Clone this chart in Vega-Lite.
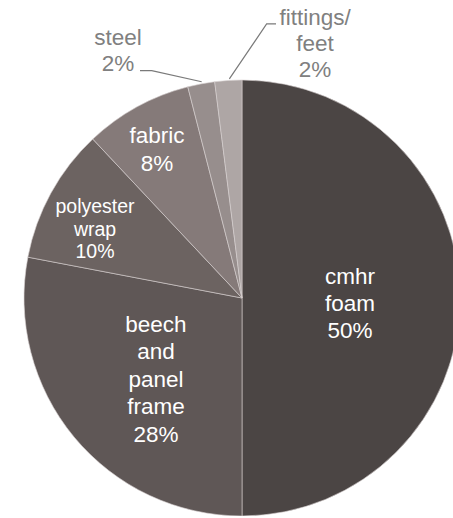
{
  "$schema": "https://vega.github.io/schema/vega-lite/v6.json",
  "width": 436,
  "height": 436,
  "autosize": {"type": "none"},
  "padding": {"left": 24, "top": 80, "right": 0, "bottom": 0},
  "background": "white",
  "config": {"view": {"stroke": null}, "font": "Liberation Sans"},
  "datasets": {
    "slices": [
      {"category": "cmhr foam", "label": "cmhr\nfoam\n50%", "value": 50, "ord": 1},
      {"category": "beech and panel frame", "label": "beech\nand\npanel\nframe\n28%", "value": 28, "ord": 2},
      {"category": "polyester wrap", "label": "polyester\nwrap\n10%", "value": 10, "ord": 3},
      {"category": "fabric", "label": "fabric\n8%", "value": 8, "ord": 4},
      {"category": "steel", "label": "steel\n2%", "value": 2, "ord": 5},
      {"category": "fittings/feet", "label": "fittings/\nfeet\n2%", "value": 2, "ord": 6}
    ],
    "callouts": [
      {"category": "steel", "label": "steel\n2%", "x": -0.569, "y": 1.193},
      {"category": "fittings/feet", "label": "fittings/\nfeet\n2%", "x": 0.335, "y": 1.284}
    ],
    "leaders": [
      {"category": "steel", "p": 1, "x": -0.468, "y": 1.043},
      {"category": "steel", "p": 2, "x": -0.414, "y": 1.043},
      {"category": "steel", "p": 3, "x": -0.185, "y": 0.992},
      {"category": "fittings/feet", "p": 1, "x": 0.156, "y": 1.257},
      {"category": "fittings/feet", "p": 2, "x": 0.113, "y": 1.257},
      {"category": "fittings/feet", "p": 3, "x": -0.058, "y": 1.005}
    ]
  },
  "layer": [
    {
      "data": {"name": "slices"},
      "mark": {"type": "arc", "stroke": "#d8d2d1", "strokeWidth": 0.6},
      "encoding": {
        "theta": {"field": "value", "type": "quantitative", "stack": true},
        "order": {"field": "ord", "type": "quantitative"},
        "color": {
          "field": "category",
          "type": "nominal",
          "legend": null,
          "scale": {
            "domain": ["cmhr foam", "beech and panel frame", "polyester wrap", "fabric", "steel", "fittings/feet"],
            "range": ["#4b4544", "#5f5756", "#6c6361", "#857a79", "#978e8d", "#aea6a5"]
          }
        }
      }
    },
    {
      "data": {"name": "slices"},
      "mark": {"type": "text", "radius": 108, "dy": -21, "fontSize": 22.5, "lineHeight": 27, "lineBreak": "\n", "fill": "white", "align": "center", "baseline": "middle"},
      "encoding": {
        "theta": {"field": "value", "type": "quantitative", "stack": true},
        "order": {"field": "ord", "type": "quantitative"},
        "text": {"field": "label", "type": "nominal", "condition": {"test": "datum.category !== 'cmhr foam'", "value": ""}}
      }
    },
    {
      "data": {"name": "slices"},
      "mark": {"type": "text", "radius": 119, "dx": 5.6, "dy": -49, "fontSize": 22.5, "lineHeight": 27.5, "lineBreak": "\n", "fill": "white", "align": "center", "baseline": "middle"},
      "encoding": {
        "theta": {"field": "value", "type": "quantitative", "stack": true},
        "order": {"field": "ord", "type": "quantitative"},
        "text": {"field": "label", "type": "nominal", "condition": {"test": "datum.category !== 'beech and panel frame'", "value": ""}}
      }
    },
    {
      "data": {"name": "slices"},
      "mark": {"type": "text", "radius": 162, "dx": -5, "dy": -13, "fontSize": 19.5, "lineHeight": 22.6, "lineBreak": "\n", "fill": "white", "align": "center", "baseline": "middle"},
      "encoding": {
        "theta": {"field": "value", "type": "quantitative", "stack": true},
        "order": {"field": "ord", "type": "quantitative"},
        "text": {"field": "label", "type": "nominal", "condition": {"test": "datum.category !== 'polyester wrap'", "value": ""}}
      }
    },
    {
      "data": {"name": "slices"},
      "mark": {"type": "text", "radius": 171, "dx": -2.6, "dy": -12, "fontSize": 22.5, "lineHeight": 28, "lineBreak": "\n", "fill": "white", "align": "center", "baseline": "middle"},
      "encoding": {
        "theta": {"field": "value", "type": "quantitative", "stack": true},
        "order": {"field": "ord", "type": "quantitative"},
        "text": {"field": "label", "type": "nominal", "condition": {"test": "datum.category !== 'fabric'", "value": ""}}
      }
    },
    {
      "data": {"name": "leaders"},
      "mark": {"type": "line", "stroke": "#7a7a7a", "strokeWidth": 1.2},
      "encoding": {
        "x": {"field": "x", "type": "quantitative", "axis": null, "scale": {"domain": [-1, 1], "nice": false, "zero": false}},
        "y": {"field": "y", "type": "quantitative", "axis": null, "scale": {"domain": [-1, 1], "nice": false, "zero": false}},
        "detail": {"field": "category", "type": "nominal"},
        "order": {"field": "p", "type": "quantitative"}
      }
    },
    {
      "data": {"name": "callouts"},
      "mark": {"type": "text", "fontSize": 22.5, "lineHeight": 26, "lineBreak": "\n", "fill": "#808080", "align": "center", "baseline": "middle"},
      "encoding": {
        "x": {"field": "x", "type": "quantitative", "axis": null, "scale": {"domain": [-1, 1], "nice": false, "zero": false}},
        "y": {"field": "y", "type": "quantitative", "axis": null, "scale": {"domain": [-1, 1], "nice": false, "zero": false}},
        "text": {"field": "label", "type": "nominal"}
      }
    }
  ]
}
